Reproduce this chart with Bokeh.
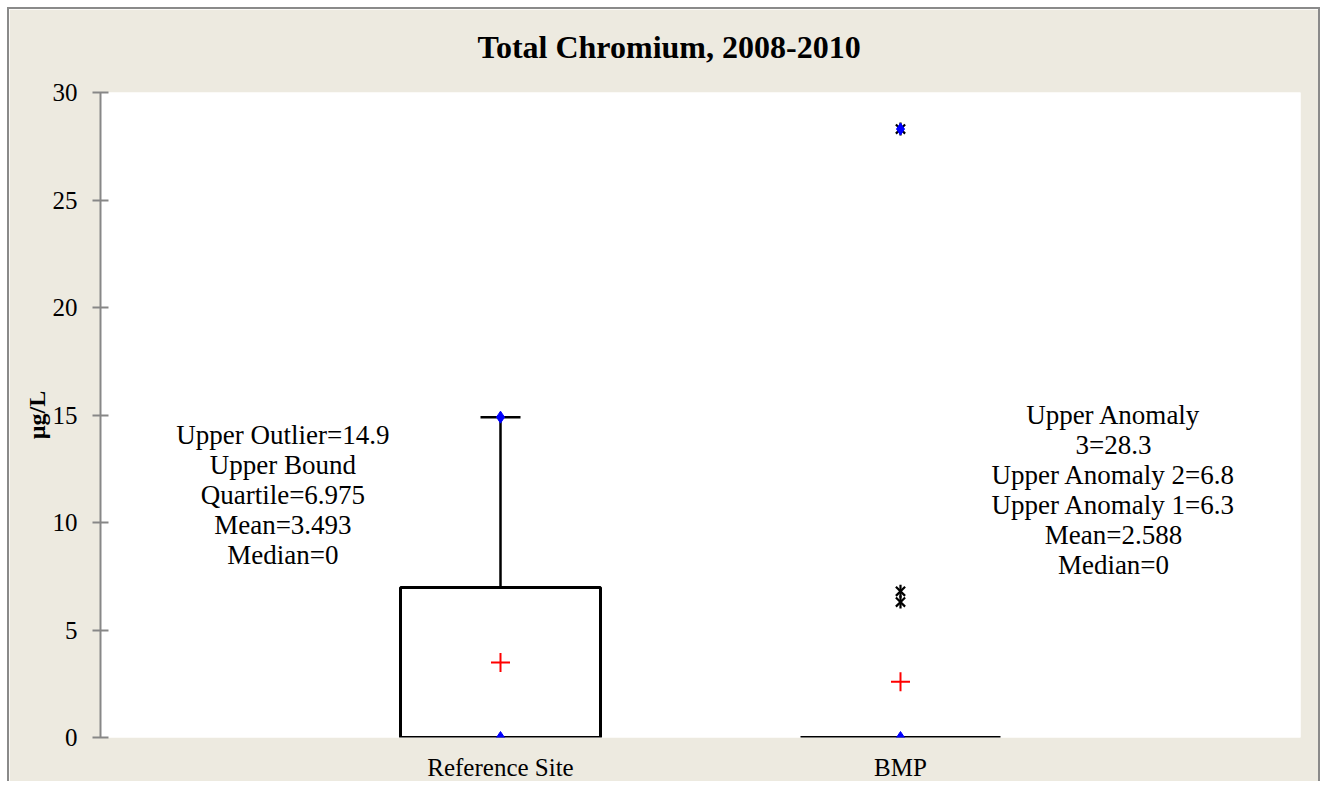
from bokeh.plotting import figure
from bokeh.models import FactorRange, Range1d, Label, SingleIntervalTicker, Title
from bokeh.embed import file_html
from bokeh.resources import INLINE
import math

# ---- data ----
title_text = "Total Chromium, 2008-2010"
categories = ["Reference Site", "BMP"]
q1 = [0.0, 0.0]
median = [0.0, 0.0]
q3 = [6.975, 0.0]
whisker_top = [14.9, 0.0]
maximum = [14.9, 28.3]
mean = [3.493, 2.588]
anomaly_cat = ["BMP", "BMP", "BMP"]
anomaly_val = [6.3, 6.8, 28.3]
ref_notes = ["Upper Outlier=14.9", "Upper Bound", "Quartile=6.975", "Mean=3.493", "Median=0"]
bmp_notes = ["Upper Anomaly", "3=28.3", "Upper Anomaly 2=6.8", "Upper Anomaly 1=6.3", "Mean=2.588", "Median=0"]

BG = "#EDEAE0"
AX = "#878787"
FONT = "Liberation Serif"

p = figure(
    x_range=FactorRange(factors=categories, range_padding=0.5, range_padding_units="absolute"),
    y_range=Range1d(0, 30),
    width=1313, height=774,
    min_border_left=91, min_border_right=22, min_border_top=83, min_border_bottom=43,
    output_backend="svg", toolbar_location=None,
    background_fill_color="white", border_fill_color=BG,
)
p.styles = {"margin-left": "7px", "margin-top": "7px",
            "border-top": "2px solid #8a8a8a", "border-left": "2px solid #8a8a8a",
            "border-right": "2px solid #8a8a8a"}
p.outline_line_color = None
p.grid.visible = False

# spacer between frame and title, then the title itself
p.title.text = ""
p.add_layout(Title(text=" ", text_font_size="1px", standoff=25), "above")
p.add_layout(Title(text=title_text, align="left", offset=377, standoff=0,
                   vertical_align="bottom", text_font=FONT, text_font_size="32px",
                   text_font_style="bold", text_color="black"), "above")

# y axis
p.yaxis.ticker = SingleIntervalTicker(interval=5, num_minor_ticks=0)
p.yaxis.axis_line_color = AX
p.yaxis.axis_line_width = 2
p.yaxis.major_tick_line_color = AX
p.yaxis.major_tick_line_width = 2
p.yaxis.major_tick_out = 8
p.yaxis.major_tick_in = 8
p.yaxis.minor_tick_line_color = None
p.yaxis.major_label_standoff = 15
p.yaxis.major_label_text_font = FONT
p.yaxis.major_label_text_font_size = "25px"
p.yaxis.major_label_text_color = "black"
p.yaxis.axis_label = "µg/L"
p.yaxis.axis_label_text_font = FONT
p.yaxis.axis_label_text_font_size = "24px"
p.yaxis.axis_label_text_font_style = "bold"
p.yaxis.axis_label_text_color = "black"
p.yaxis.axis_label_standoff = 0

# x axis
p.xaxis.axis_line_color = None
p.xaxis.major_tick_line_color = None
p.xaxis.minor_tick_line_color = None
p.xaxis.major_label_standoff = 10
p.xaxis.major_label_text_font = FONT
p.xaxis.major_label_text_font_size = "25px"
p.xaxis.major_label_text_color = "black"

# boxes
p.vbar(x=categories, bottom=q1, top=q3, width=0.5, fill_color="white",
       line_color="black", line_width=3)

# whiskers and caps (only where whisker extends beyond the box)
w_cats = [c for c, w, t in zip(categories, whisker_top, q3) if w > t]
w_top = [w for w, t in zip(whisker_top, q3) if w > t]
w_bot = [t for w, t in zip(whisker_top, q3) if w > t]
p.segment(x0=w_cats, y0=w_bot, x1=w_cats, y1=w_top, line_color="black", line_width=2.5)
p.vbar(x=w_cats, bottom=w_top, top=w_top, width=0.1, line_color="black", line_width=2.5)

# anomalies (star: x + vertical bar)
p.scatter(x=anomaly_cat, y=anomaly_val, marker="x", size=13, line_color="black", line_width=2.2)
p.scatter(x=anomaly_cat, y=anomaly_val, marker="dash", size=13, angle=math.pi / 2,
          line_color="black", line_width=2.2)

# max and median markers
p.scatter(x=categories, y=maximum, marker="diamond", size=12, fill_color="blue", line_color="blue")
p.scatter(x=categories, y=median, marker="diamond", size=12, fill_color="blue", line_color="blue")

# mean
p.scatter(x=categories, y=mean, marker="cross", size=19, line_color="red", line_width=2)

# annotations
p.add_layout(Label(x=-0.044, y=14.77, text="\n".join(ref_notes), text_align="center",
                   text_baseline="top", text_font=FONT, text_font_size="27px",
                   text_color="black", text_line_height=1.0))
p.add_layout(Label(x=2.0325, y=15.69, text="\n".join(bmp_notes), text_align="center",
                   text_baseline="top", text_font=FONT, text_font_size="27px",
                   text_color="black", text_line_height=1.0))

open("out.html", "w").write(file_html(p, INLINE))
